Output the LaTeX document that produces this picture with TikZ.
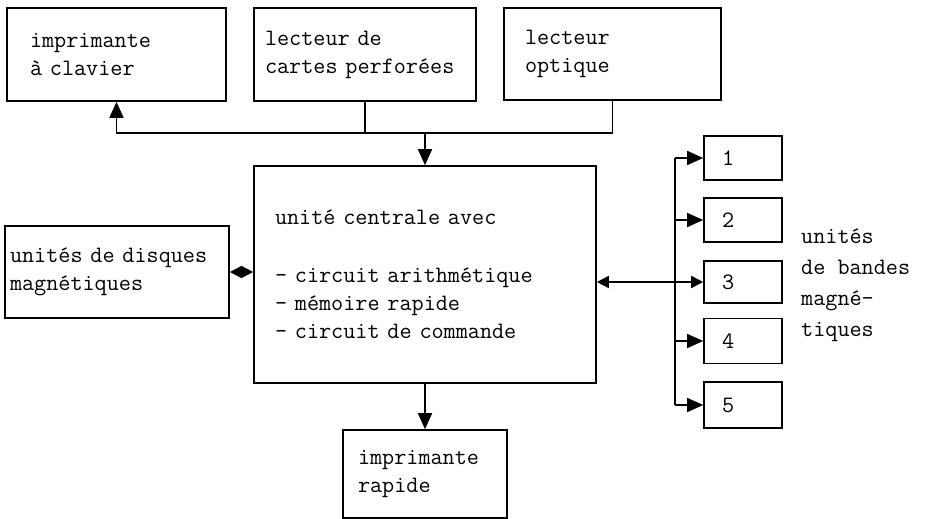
\documentclass[tikz,border=0pt]{standalone}
\usepackage{fontspec}
\usetikzlibrary{arrows.meta,calc}

\begin{document}
\begin{tikzpicture}[x=1pt,y=-1pt,
  box/.style={draw,line width=1.6pt,align=left,inner ysep=0pt,
    font=\ttfamily\fontsize{23.5}{28}\selectfont},
  tape/.style={draw,line width=1.6pt,minimum width=78pt,anchor=center,
    font=\ttfamily\fontsize{23.5}{28}\selectfont,text width=42pt,inner xsep=18pt},
  arr/.style={line width=1.6pt,-{Triangle[length=16pt,width=14pt]}},
  darr/.style={line width=1.6pt,{Triangle[length=12pt,width=12pt]}-{Triangle[length=12pt,width=12pt]}}]
\useasboundingbox (0,0) rectangle (929,519);

% input / output devices on top
\node[box,minimum width=219pt,minimum height=93pt,text width=173pt,inner xsep=23pt] (clav) at (116.5,54.5) {imprimante\\à clavier};
\node[box,minimum width=222pt,minimum height=93pt,text width=200pt,inner xsep=11pt] (cart) at (365,54.5) {lecteur de\\cartes perforées};
\node[box,minimum width=217pt,minimum height=92pt,text width=175pt,inner xsep=21pt] (opt) at (612.5,54) {lecteur\\optique};

% central unit
\node[box,minimum width=342pt,minimum height=217pt,text width=300pt,inner xsep=21pt] (cpu) at (425,274.5)
  {unité centrale avec\\[30pt]- circuit arithmétique\\- mémoire rapide\\- circuit de commande};

% disks and printer
\node[box,minimum width=224pt,minimum height=92pt,text width=214pt,inner xsep=5pt] (disk) at (117,272) {unités de disques\\magnétiques};
\node[box,minimum width=164pt,minimum height=88pt,text width=134pt,inner xsep=15pt] (prn) at (425,474) {imprimante\\rapide};

% tape units
\node[tape,minimum height=44pt] (t1) at (743,158) {1};
\node[tape,minimum height=44pt] (t2) at (743,220) {2};
\node[tape,minimum height=42pt] (t3) at (743,282) {3};
\node[tape,minimum height=45pt] (t4) at (743,341) {4};
\node[tape,minimum height=46pt] (t5) at (743,405) {5};
\node[align=left,anchor=west,inner sep=0pt,font=\ttfamily\fontsize{23.5}{31}\selectfont] (lbl) at (801,285)
  {unités\\de bandes\\magné-\\tiques};

% Connections
\coordinate (jt) at (425,133);
\coordinate (bus) at (675,0);
\draw[arr] (opt.south) |- (jt) -| (clav.south);
\draw[line width=1.6pt] (cart.south) -- (cart.south |- jt);
\draw[arr] (jt) -- (cpu.north);
\draw[arr] (cpu.south) -- (prn.north);
\draw[darr] (disk.east) -- (disk.east -| cpu.west);

% tape bus
\draw[line width=1.6pt] (bus |- t1.west) -- (bus |- t5.west);
\foreach \i in {1,2,4,5}
  \draw[arr] (bus |- t\i.west) -- (t\i.west);
\draw[darr] (cpu.east |- t3.west) -- (t3.west);
\end{tikzpicture}
\end{document}
